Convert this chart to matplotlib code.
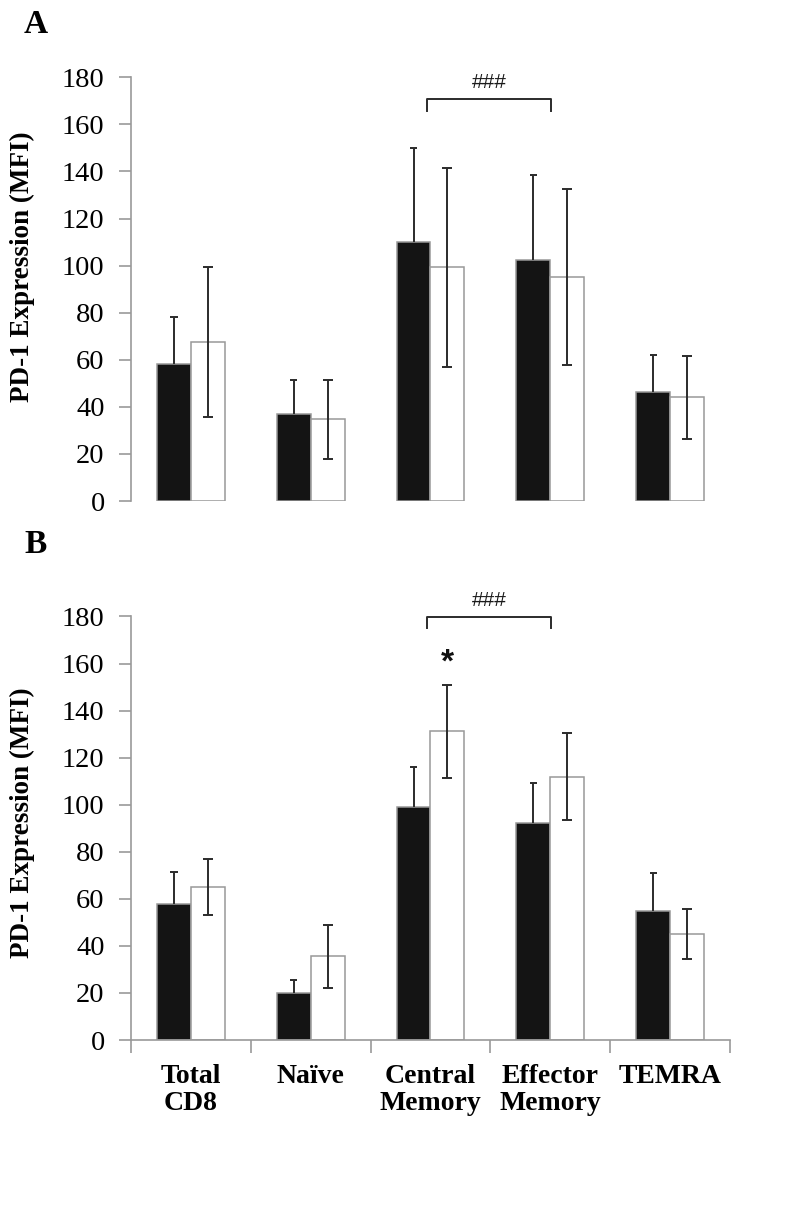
import numpy as np
import matplotlib
matplotlib.use('Agg')
import matplotlib.pyplot as plt

plt.rcParams['font.family'] = ['Liberation Serif', 'DejaVu Serif']

categories = ['Total\nCD8', 'Na\u00efve', 'Central\nMemory', 'Effector\nMemory', 'TEMRA']

# panel A
a_black = [58.1, 37.0, 109.9, 102.4, 46.5]
a_black_err = [20.1, 14.4, 40.2, 36.1, 15.5]
a_white = [67.7, 34.7, 99.3, 95.3, 44.0]
a_white_err = [31.9, 16.8, 42.3, 37.4, 17.5]

# panel B
b_black = [57.7, 20.1, 99.0, 92.2, 55.0]
b_black_err = [13.7, 5.4, 17.0, 17.2, 16.0]
b_white = [64.9, 35.7, 131.2, 111.8, 45.0]
b_white_err = [11.9, 13.4, 19.8, 18.5, 10.5]

bw = 0.283
cap = 0.03
gray = '#999999'
dark = '#2b2b2b'

fig = plt.figure(figsize=(7.87, 12.19), dpi=100)
ax1 = fig.add_axes([0.1665, 0.589, 0.761, 0.3476])
ax2 = fig.add_axes([0.1665, 0.1468, 0.761, 0.3475])


def draw_panel(ax, black, black_err, white, white_err, bottom_axis, label_y):
    x = np.arange(len(categories))
    black = np.array(black)
    black_err = np.array(black_err)
    ax.bar(x - bw, black, width=bw, align='edge', color='#141414',
           edgecolor=gray, linewidth=1.1, zorder=2)
    ax.bar(x, white, width=bw, align='edge', color='white',
           edgecolor=gray, linewidth=1.1, zorder=2)
    # only the upper half shows above the black bars
    xb = x - bw / 2
    ax.vlines(xb, black, black + black_err, color=dark, lw=1.4, zorder=3)
    ax.hlines(black + black_err, xb - cap, xb + cap, color=dark, lw=1.4,
              zorder=3)
    ax.errorbar(x + bw / 2, white, yerr=white_err, fmt='none', ecolor=dark,
                elinewidth=1.4, capsize=3.5, capthick=1.4, zorder=3)
    ax.set_xlim(-0.5, 4.5)
    ax.set_ylim(0, 180)
    ax.set_yticks(range(0, 181, 20))
    ax.tick_params(axis='y', direction='out', length=9, width=1.2,
                   color=gray, labelsize=20.5, pad=10)
    for s in ['top', 'right']:
        ax.spines[s].set_visible(False)
    ax.spines['left'].set_color(gray)
    ax.spines['left'].set_linewidth(1.2)
    ax.set_ylabel('PD-1 Expression (MFI)', fontsize=19.5, fontweight='bold')
    ax.yaxis.set_label_coords(-0.160, label_y)
    if bottom_axis:
        ax.spines['bottom'].set_color(gray)
        ax.spines['bottom'].set_linewidth(1.2)
        ax.set_xticks(x)
        ax.set_xticklabels(categories, fontsize=20, fontweight='bold',
                           linespacing=1.12)
        ax.tick_params(axis='x', which='major', length=0, pad=17)
        ax.set_xticks(np.arange(-0.5, 5, 1), minor=True)
        ax.tick_params(axis='x', which='minor', direction='out', length=9,
                       width=1.2, color=gray)
    else:
        ax.spines['bottom'].set_visible(False)
        ax.set_xticks([])


def bracket(ax, x0, x1, y, drop, text):
    ax.plot([x0, x0, x1, x1], [y - drop, y, y, y - drop], color=dark,
            lw=1.4, clip_on=False, zorder=4)
    ax.text((x0 + x1) / 2, y + 3.0, text, ha='center', va='bottom',
            fontsize=15, color='#1a1a1a',
            family=['Liberation Sans', 'DejaVu Sans'], clip_on=False)


draw_panel(ax1, a_black, a_black_err, a_white, a_white_err, False, 0.554)
draw_panel(ax2, b_black, b_black_err, b_white, b_white_err, True, 0.514)

bracket(ax1, 1.97, 3.01, 170.8, 5.0, '###')
bracket(ax2, 1.97, 3.01, 179.9, 5.0, '###')
ax2.text(2 + bw / 2, 153.5, '*', ha='center', va='bottom', fontsize=24,
         fontweight='bold', color='#111111',
         family=['Liberation Sans', 'DejaVu Sans'])

fig.text(0.0305, 0.993, 'A', fontsize=24, fontweight='bold', va='top')
fig.text(0.0305, 0.566, 'B', fontsize=24, fontweight='bold', va='top')

fig.savefig('out.png', dpi=100)
